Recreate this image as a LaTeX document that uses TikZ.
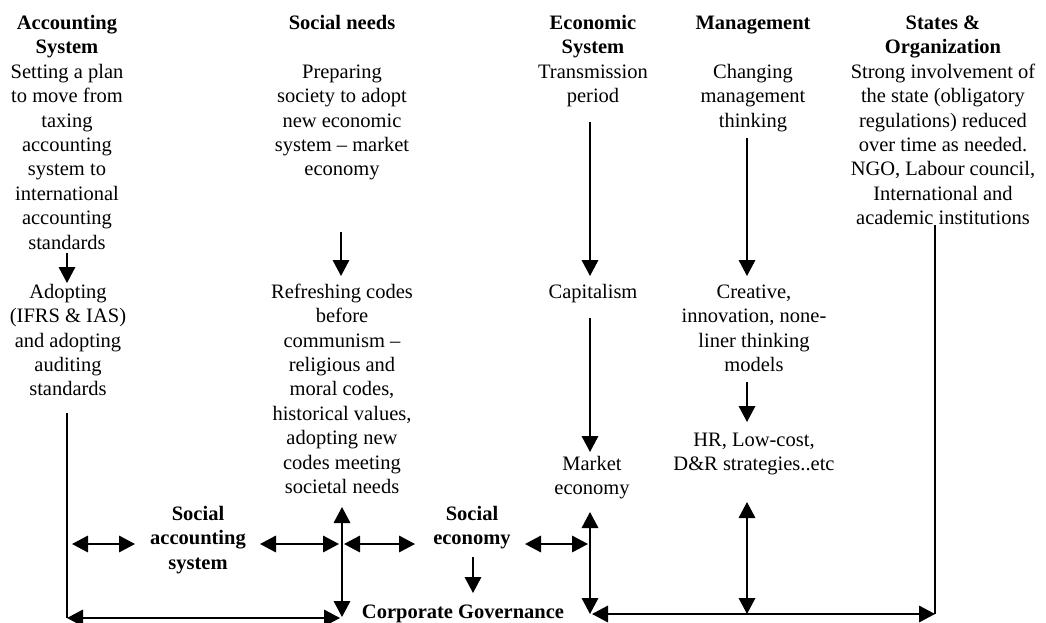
\documentclass[tikz,border=0pt]{standalone}
\usepackage{fontspec}
\setmainfont{Liberation Serif}
\usetikzlibrary{arrows.meta}
\begin{document}
\begin{tikzpicture}[x=1pt,y=-1pt,
  txt/.style={align=center, inner sep=0pt, anchor=north, font=\fontsize{20.5}{24.4}\selectfont},
  hd/.style={txt, font=\fontsize{20.5}{24.4}\selectfont\bfseries},
  arr/.style={line width=1.8pt, -{Triangle[width=16.5pt,length=16pt]}},
  darr/.style={line width=1.8pt, {Triangle[width=16.5pt,length=16pt]}-{Triangle[width=16.5pt,length=16pt]}},
  ln/.style={line width=1.8pt}]
\useasboundingbox (0,0) rectangle (1046,623);
% column 1
\node[hd] (h1) at (67,12) {\strut Accounting\\System};
\node[txt] (b1) at (67,61) {\strut Setting a plan\\to move from\\taxing\\accounting\\system to\\international\\accounting\\standards};
\node[txt] (c1) at (68,281) {\strut Adopting\\(IFRS \& IAS)\\and adopting\\auditing\\standards};
% column 2
\node[hd] (h2) at (342,12) {\strut Social needs};
\node[txt] (b2) at (342,61) {\strut Preparing\\society to adopt\\new economic\\system – market\\economy};
\node[txt] (c2) at (342,281) {\strut Refreshing codes\\before\\communism –\\religious and\\moral codes,\\historical values,\\adopting new\\codes meeting\\societal needs};
% column 3
\node[hd] (h3) at (593,12) {\strut Economic\\System};
\node[txt] (b3) at (593,61) {\strut Transmission\\period};
\node[txt] (c3) at (593,281) {\strut Capitalism};
\node[txt] (d3) at (592,453) {\strut Market\\economy};
% column 4
\node[hd] (h4) at (753,12) {\strut Management};
\node[txt] (b4) at (753,61) {\strut Changing\\management\\thinking};
\node[txt] (c4) at (754,281) {\strut Creative,\\innovation, none-\\liner thinking\\models};
\node[txt] (d4) at (754,429) {\strut HR, Low-cost,\\D\&R strategies..etc};
% column 5
\node[hd] (h5) at (943,12) {\strut States \&\\Organization};
\node[txt] (b5) at (943,61) {\strut Strong involvement of\\the state (obligatory\\regulations) reduced\\over time as needed.\\NGO, Labour council,\\International and\\academic institutions};
% middle labels
\node[hd] (sas) at (198,503) {\strut Social\\accounting\\system};
\node[hd] (se) at (472,503) {\strut Social\\economy};
\node[hd] (cg) at (463,601) {\strut Corporate Governance};
% coordinates
\coordinate (a1s) at (67,253); \coordinate (a1e) at (67,283);
\coordinate (v1s) at (67,413); \coordinate (bl) at (67,618); \coordinate (blr) at (340,618);
\coordinate (h1a) at (72,544); \coordinate (h1b) at (135,544);
\coordinate (h2a) at (260,544); \coordinate (h2b) at (339,544);
\coordinate (v2t) at (342,507); \coordinate (v2b) at (342,617);
\coordinate (h3a) at (344,544); \coordinate (h3b) at (415,544);
\coordinate (h4a) at (525,544); \coordinate (h4b) at (588,544);
\coordinate (ses) at (473,557); \coordinate (see) at (473,593);
\coordinate (a2s) at (341,232); \coordinate (a2e) at (341,276);
\coordinate (a3s) at (590,122); \coordinate (a3e) at (590,276);
\coordinate (a3bs) at (590,318); \coordinate (a3be) at (590,452);
\coordinate (v3t) at (590,512); \coordinate (v3b) at (590,614);
\coordinate (brl) at (592,614); \coordinate (brr) at (935,614);
\coordinate (v5t) at (935,225);
\coordinate (a4s) at (747,138); \coordinate (a4e) at (747,276);
\coordinate (a4bs) at (747,382); \coordinate (a4be) at (747,422);
\coordinate (v4t) at (747,502); \coordinate (v4b) at (747,614);
% connectors
\draw[arr] (a1s) -- (a1e);
\draw[ln] (v1s) -- (bl);
\draw[darr] (bl) -- (blr);
\draw[darr] (h1a) -- (h1b);
\draw[darr] (h2a) -- (h2b);
\draw[darr] (v2t) -- (v2b);
\draw[darr] (h3a) -- (h3b);
\draw[darr] (h4a) -- (h4b);
\draw[arr] (ses) -- (see);
\draw[arr] (a2s) -- (a2e);
\draw[arr] (a3s) -- (a3e);
\draw[arr] (a3bs) -- (a3be);
\draw[darr] (v3t) -- (v3b);
\draw[darr] (brl) -- (brr);
\draw[ln] (v5t) -- (brr);
\draw[arr] (a4s) -- (a4e);
\draw[arr] (a4bs) -- (a4be);
\draw[darr] (v4t) -- (v4b);
\end{tikzpicture}
\end{document}
